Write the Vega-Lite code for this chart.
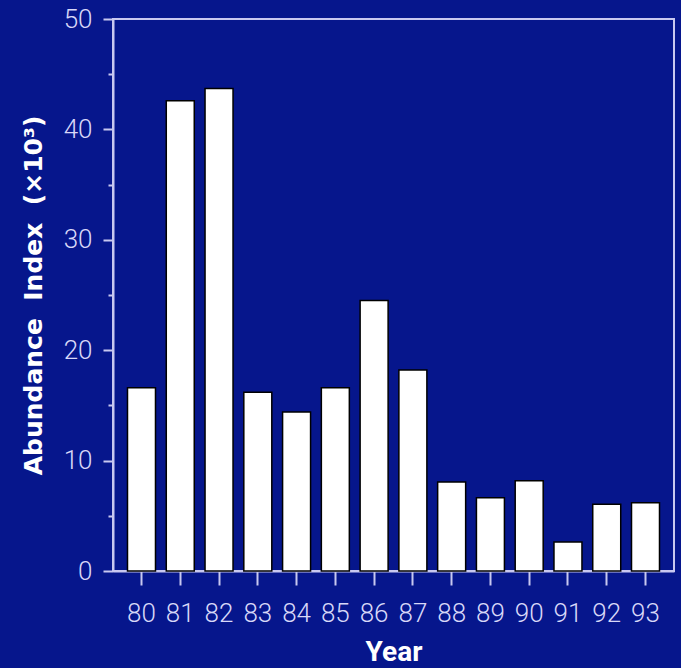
{
  "$schema": "https://vega.github.io/schema/vega-lite/v6.json",
  "width": 561,
  "height": 552,
  "autosize": {"type": "none"},
  "padding": {"left": 113, "top": 19, "right": 7, "bottom": 97},
  "background": "#06168c",
  "data": {
    "values": [
      {"Year": "80", "Index": 16.6},
      {"Year": "81", "Index": 42.6},
      {"Year": "82", "Index": 43.7},
      {"Year": "83", "Index": 16.2},
      {"Year": "84", "Index": 14.4},
      {"Year": "85", "Index": 16.6},
      {"Year": "86", "Index": 24.5},
      {"Year": "87", "Index": 18.2},
      {"Year": "88", "Index": 8.06},
      {"Year": "89", "Index": 6.64},
      {"Year": "90", "Index": 8.18},
      {"Year": "91", "Index": 2.63},
      {"Year": "92", "Index": 6.04},
      {"Year": "93", "Index": 6.19}
    ]
  },
  "layer": [
    {
      "mark": {"type": "bar", "fill": "white", "stroke": "black", "strokeWidth": 1.5},
      "encoding": {
        "x": {
          "field": "Year", "type": "ordinal",
          "scale": {"paddingInner": 0.278, "paddingOuter": 0.374},
          "axis": {"title": "Year", "labelAngle": 0, "tickSize": 14, "labelPadding": 15, "titlePadding": 12, "titleFontSize": 28}
        },
        "y": {
          "field": "Index", "type": "quantitative",
          "scale": {"domain": [0, 50], "nice": false},
          "axis": {"orient": "left", "values": [0, 10, 20, 30, 40, 50], "tickSize": 10, "labelPadding": 11, "grid": false,
                   "title": "Abundance\u00a0\u00a0Index\u00a0\u00a0(×10³)", "titlePadding": 17,
                   "titleFont": "DejaVu Sans", "titleFontWeight": "bold", "titleFontSize": 25}
        }
      }
    },
    {
      "mark": {"type": "bar", "opacity": 0},
      "encoding": {
        "x": {"field": "Year", "type": "ordinal"},
        "y": {
          "field": "Index", "type": "quantitative",
          "axis": {"orient": "left", "values": [5, 15, 25, 35, 45], "labels": false, "domain": false, "tickSize": 5, "title": null, "grid": false}
        }
      }
    }
  ],
  "resolve": {"axis": {"y": "independent"}},
  "config": {
    "view": {"stroke": "#c8c8f0", "strokeWidth": 2},
    "axis": {
      "domainColor": "#c8c8f0",
      "domainWidth": 2,
      "tickColor": "#c8c8f0",
      "tickWidth": 2,
      "labelColor": "#d8d8f8",
      "labelFont": "Roboto",
      "labelFontSize": 26,
      "labelFontWeight": 300,
      "titleColor": "white",
      "titleFont": "Roboto",
      "titleFontWeight": "bold",
      "titleFontSize": 25
    }
  }
}
